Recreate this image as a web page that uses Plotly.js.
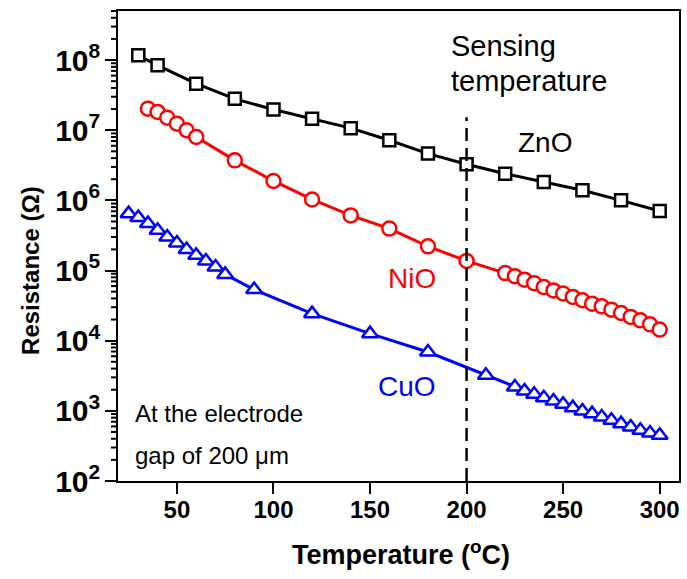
<!DOCTYPE html>
<html>
<head>
<meta charset="utf-8">
<script src="https://cdn.plot.ly/plotly-3.0.1.min.js"></script>
<style>html,body{margin:0;padding:0;background:#fff;}#chart{width:687px;height:579px;}</style>
</head>
<body>
<div id="chart"></div>
<script>
// ---- data ----
const tempZnO = [30, 40, 60, 80, 100, 120, 140, 160, 180, 200, 220, 240, 260, 280, 300];
const resZnO = [1.17e8, 8.4e7, 4.6e7, 2.8e7, 1.97e7, 1.46e7, 1.07e7, 7.2e6, 4.64e6, 3.27e6, 2.4e6, 1.83e6, 1.39e6, 1.0e6, 7.05e5];

const tempNiO = [35, 40, 45, 50, 55, 60, 80, 100, 120, 140, 160, 180, 200,
  220, 225, 230, 235, 240, 245, 250, 255, 260, 265, 270, 275, 280, 285, 290, 295, 300];
const resNiO = [2.03e7, 1.82e7, 1.51e7, 1.24e7, 9.97e6, 8.0e6, 3.72e6, 1.89e6, 1.03e6, 6.1e5, 3.96e5, 2.21e5, 1.37e5,
  9.2e4, 8.3e4, 7.4e4, 6.6e4, 5.8e4, 5.2e4, 4.7e4, 4.2e4, 3.77e4, 3.37e4, 3.09e4, 2.77e4, 2.48e4, 2.18e4, 1.95e4, 1.71e4, 1.44e4];

const tempCuO = [25, 30, 35, 40, 45, 50, 55, 60, 65, 70, 75, 90, 120, 150, 180, 210,
  225, 230, 235, 240, 245, 250, 255, 260, 265, 270, 275, 280, 285, 290, 295, 300];
const resCuO = [6.47e5, 5.68e5, 4.67e5, 3.74e5, 3.0e5, 2.47e5, 1.99e5, 1.65e5, 1.37e5, 1.12e5, 8.8e4, 5.35e4, 2.43e4, 1.26e4, 6.9e3, 3.21e3,
  2.19e3, 1.92e3, 1.72e3, 1.54e3, 1.38e3, 1.24e3, 1.11e3, 995, 912, 818, 733, 657, 589, 528, 483, 448];

const sensingTemp = 200;
const seriesNames = ['ZnO', 'NiO', 'CuO'];
const seriesColors = ['#000000', '#ff0000', '#0000ff'];

const FONT = 'Liberation Sans, Arial, Helvetica, sans-serif';
const yRangeLog = [2, 8.699];
const plotWidthPx = 687 - 118 - 8;

// minor tick marks (2..9 x each decade), placed through the axis' log scale
const minorShapes = [];
for (let e = 2; e <= 8; e++) {
  for (let m = 2; m <= 9; m++) {
    const lv = Math.log10(m * Math.pow(10, e));
    if (lv > yRangeLog[1] + 1e-6) continue;
    const yp = (lv - yRangeLog[0]) / (yRangeLog[1] - yRangeLog[0]);
    minorShapes.push({
      type: 'line', xref: 'paper', yref: 'paper', layer: 'above',
      x0: -7 / plotWidthPx, x1: 0, y0: yp, y1: yp,
      line: {color: '#000', width: 2}
    });
  }
}

function trace(x, y, name, color, symbol, size) {
  return {
    x: x, y: y, name: name, type: 'scatter', mode: 'lines+markers',
    line: {color: color, width: 3},
    marker: {symbol: symbol, size: size, color: '#ffffff', line: {color: color, width: 2.5}},
    showlegend: false, hoverinfo: 'x+y'
  };
}

const data = [
  trace(tempZnO, resZnO, seriesNames[0], seriesColors[0], 'square', 12),
  trace(tempNiO, resNiO, seriesNames[1], seriesColors[1], 'circle', 14),
  trace(tempCuO, resCuO, seriesNames[2], seriesColors[2], 'triangle-up', 14)
];

const layout = {
  width: 687, height: 579,
  margin: {l: 118, r: 8, t: 11, b: 98},
  paper_bgcolor: '#ffffff', plot_bgcolor: '#ffffff',
  font: {family: FONT, color: '#000'},
  xaxis: {
    range: [19.5, 310], tick0: 0, dtick: 50,
    ticks: 'outside', ticklen: 11, tickwidth: 2, tickcolor: '#000',
    ticklabelstandoff: -5,
    showline: true, linewidth: 2, linecolor: '#000', mirror: true,
    showgrid: false, zeroline: false,
    tickfont: {family: FONT, size: 24, weight: 'bold', color: '#000'}
  },
  yaxis: {
    type: 'log', range: yRangeLog, dtick: 1, exponentformat: 'power',
    ticks: 'outside', ticklen: 11, tickwidth: 2, tickcolor: '#000',
    showline: true, linewidth: 2, linecolor: '#000', mirror: true,
    showgrid: false, zeroline: false,
    tickfont: {family: FONT, size: 24, weight: 'bold', color: '#000'}
  },
  shapes: [{
    type: 'line', xref: 'x', yref: 'paper',
    x0: sensingTemp, x1: sensingTemp, y0: 0, y1: 0.774,
    line: {color: '#000', width: 2.5, dash: '13px,7px'}
  }].concat(minorShapes),
  annotations: [
    {text: 'Temperature (<sup>o</sup>C)', xref: 'paper', yref: 'paper', x: 0.505, y: -0.154,
     xanchor: 'center', yanchor: 'middle', showarrow: false,
     font: {family: FONT, size: 27, weight: 'bold', color: '#000'}},
    {text: 'Resistance (Ω)', xref: 'paper', yref: 'paper', x: -0.156, y: 0.448, textangle: -90,
     xanchor: 'center', yanchor: 'middle', showarrow: false,
     font: {family: FONT, size: 24, weight: 'bold', color: '#000'}},
    {text: 'Sensing', xref: 'x', yref: 'y', x: 191, y: 8.196, xanchor: 'left', yanchor: 'middle',
     showarrow: false, font: {family: FONT, size: 29, color: '#000'}},
    {text: 'temperature', xref: 'x', yref: 'y', x: 191, y: 7.697, xanchor: 'left', yanchor: 'middle',
     showarrow: false, font: {family: FONT, size: 29, color: '#000'}},
    {text: seriesNames[0], xref: 'x', yref: 'y', x: 240.4, y: 6.828, xanchor: 'center', yanchor: 'middle',
     showarrow: false, font: {family: FONT, size: 28, color: seriesColors[0]}},
    {text: seriesNames[1], xref: 'x', yref: 'y', x: 171.5, y: 4.889, xanchor: 'center', yanchor: 'middle',
     showarrow: false, font: {family: FONT, size: 28, color: seriesColors[1]}},
    {text: seriesNames[2], xref: 'x', yref: 'y', x: 168.9, y: 3.35, xanchor: 'center', yanchor: 'middle',
     showarrow: false, font: {family: FONT, size: 28, color: seriesColors[2]}},
    {text: 'At the electrode', xref: 'x', yref: 'y', x: 27.5, y: 2.965, xanchor: 'left', yanchor: 'middle',
     showarrow: false, font: {family: FONT, size: 24, color: '#000'}},
    {text: 'gap of 200 μm', xref: 'x', yref: 'y', x: 27.5, y: 2.366, xanchor: 'left', yanchor: 'middle',
     showarrow: false, font: {family: FONT, size: 24, color: '#000'}}
  ]
};

Plotly.newPlot('chart', data, layout, {staticPlot: true, displayModeBar: false});
</script>
</body>
</html>
